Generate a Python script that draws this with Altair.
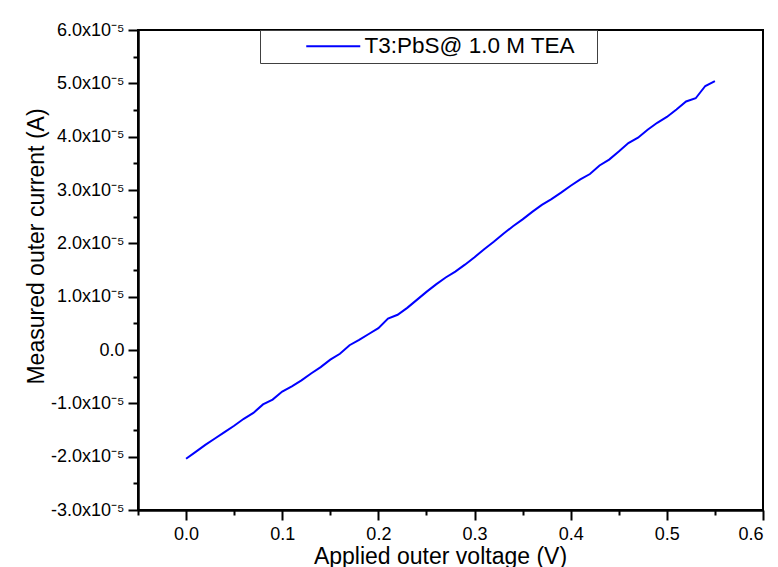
import altair as alt
import pandas as pd

FONT = "Liberation Sans"

series_name = "T3:PbS@ 1.0 M TEA"

voltage = [0.00, 0.01, 0.02, 0.03, 0.04, 0.05, 0.06, 0.07, 0.08, 0.09,
           0.10, 0.11, 0.12, 0.13, 0.14, 0.15, 0.16, 0.17, 0.18, 0.19,
           0.20, 0.21, 0.22, 0.23, 0.24, 0.25, 0.26, 0.27, 0.28, 0.29,
           0.30, 0.31, 0.32, 0.33, 0.34, 0.35, 0.36, 0.37, 0.38, 0.39,
           0.40, 0.41, 0.42, 0.43, 0.44, 0.45, 0.46, 0.47, 0.48, 0.49,
           0.50, 0.51, 0.52, 0.53, 0.54, 0.55]

current = [-2.04e-5, -1.91e-5, -1.78e-5, -1.66e-5, -1.54e-5, -1.42e-5, -1.29e-5, -1.18e-5, -1.02e-5, -0.93e-5,
           -0.78e-5, -0.68e-5, -0.57e-5, -0.44e-5, -0.32e-5, -0.18e-5, -0.07e-5, 0.09e-5, 0.19e-5, 0.30e-5,
           0.41e-5, 0.59e-5, 0.66e-5, 0.79e-5, 0.94e-5, 1.09e-5, 1.23e-5, 1.36e-5, 1.47e-5, 1.60e-5,
           1.74e-5, 1.89e-5, 2.03e-5, 2.18e-5, 2.32e-5, 2.45e-5, 2.59e-5, 2.72e-5, 2.83e-5, 2.95e-5,
           3.08e-5, 3.20e-5, 3.30e-5, 3.46e-5, 3.57e-5, 3.72e-5, 3.88e-5, 3.98e-5, 4.13e-5, 4.26e-5,
           4.37e-5, 4.51e-5, 4.66e-5, 4.72e-5, 4.95e-5, 5.04e-5]

x_major = [0.0, 0.1, 0.2, 0.3, 0.4, 0.5, 0.6]
x_minor = [-0.05, 0.05, 0.15, 0.25, 0.35, 0.45, 0.55]
y_major = [-3e-5, -2e-5, -1e-5, 0.0, 1e-5, 2e-5, 3e-5, 4e-5, 5e-5, 6e-5]
y_minor = [-2.5e-5, -1.5e-5, -0.5e-5, 0.5e-5, 1.5e-5, 2.5e-5, 3.5e-5, 4.5e-5, 5.5e-5]

df = pd.DataFrame({"V": voltage, "I": current, "s": [series_name] * len(voltage)})

xs = alt.Scale(domain=[-0.05, 0.6], nice=False, zero=False)
ys = alt.Scale(domain=[-3e-5, 6e-5], nice=False, zero=False)

common = dict(domainColor="black", tickColor="black", labelColor="black",
              titleColor="black", labelFont=FONT, titleFont=FONT, grid=False)

y_label_expr = ("datum.value == 0 ? '0.0' : (datum.value < 0 ? '-' : '') + "
                "format(abs(datum.value) * 100000, '.1f') + 'x10\u207b\u2075'")

main = alt.Chart(df).mark_line(strokeWidth=2).encode(
    x=alt.X("V:Q", scale=xs, axis=alt.Axis(
        values=x_major, format=".1f", title="Applied outer voltage (V)", orient="bottom",
        tickSize=10, tickWidth=2, labelFontSize=18, labelPadding=5,
        titleFontSize=23, titleFontWeight="normal", titleX=302, titleY=53,
        titleAlign="center", titleBaseline="alphabetic",
        domainWidth=2.5, **common)),
    y=alt.Y("I:Q", scale=ys, axis=alt.Axis(
        values=y_major, labelExpr=y_label_expr, title="Measured outer current (A)", orient="left",
        tickSize=10, tickWidth=2, labelFontSize=18, labelPadding=4,
        titleFontSize=23, titleFontWeight="normal", titleX=-95, titleY=216,
        titleAlign="center", titleBaseline="alphabetic", titleAngle=270,
        domainWidth=2.5, **common)),
    color=alt.Color("s:N", scale=alt.Scale(range=["#0000ff"]), legend=alt.Legend(
        title=None, orient="none", legendX=122, legendY=0, padding=5,
        strokeColor="#404040", fillColor="white", symbolType="M-3,0H3",
        symbolSize=324, symbolStrokeWidth=2, symbolOffset=57, labelOffset=20,
        labelFontSize=22.5, labelFont=FONT, labelColor="black", labelLimit=600,
        labelExpr="datum.label + '\u2800'")),
)

minor = alt.Chart(df).mark_line(opacity=0).encode(
    x=alt.X("V:Q", scale=xs, axis=alt.Axis(
        values=x_minor, orient="bottom", labels=False, domain=False, title="",
        tickSize=5, tickWidth=2, tickColor="black", grid=False)),
    y=alt.Y("I:Q", scale=ys, axis=alt.Axis(
        values=y_minor, orient="left", labels=False, domain=False, title="",
        tickSize=5, tickWidth=2, tickColor="black", grid=False)),
)

chart = alt.layer(minor, main).resolve_axis(
    x="independent", y="independent"
).properties(
    width=625, height=480,
    autosize=alt.AutoSizeParams(type="none"),
    padding={"left": 138, "top": 30, "right": 15, "bottom": 57},
    background="white",
).configure_view(stroke="black", strokeWidth=2)

chart.save("out.html", embed_options={"renderer": "svg", "actions": False})
